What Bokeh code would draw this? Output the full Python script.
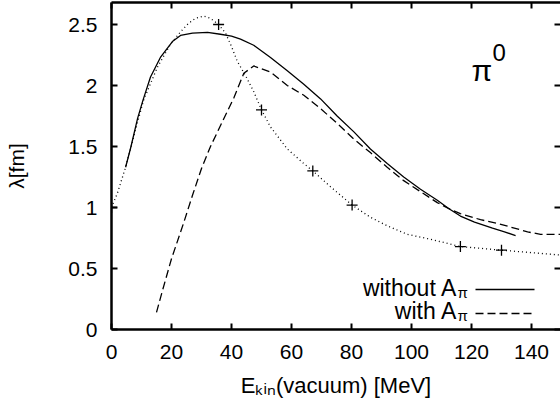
from bokeh.plotting import figure
from bokeh.models import (Range1d, FixedTicker, LinearAxis, Label,
                          NumeralTickFormatter, CustomLabelingPolicy)
from bokeh.embed import file_html
from bokeh.resources import INLINE

# ---- data -------------------------------------------------------------
x_ticks = [0, 20, 40, 60, 80, 100, 120, 140]
y_ticks = [0, 0.5, 1, 1.5, 2, 2.5]

# without A_pi (solid)
sol_x = [4.7, 6.5, 8.7, 10.5, 13, 16.3, 20.3, 23, 27, 32, 36.3, 40, 43,
         47.4, 53, 58.6, 64.1, 69.7, 75.2, 80.8, 86.3, 91.9, 97.4, 103,
         108.6, 112.5, 116.3, 121, 127, 131, 134.7]
sol_y = [1.33, 1.50, 1.73, 1.88, 2.07, 2.23, 2.36, 2.41, 2.43, 2.435, 2.42,
         2.405, 2.38, 2.33, 2.23, 2.12, 2.01, 1.89, 1.75, 1.62, 1.48, 1.36,
         1.25, 1.15, 1.06, 0.99, 0.93, 0.88, 0.83, 0.80, 0.77]

# with A_pi (dashed)
das_x = [15, 17, 20, 24, 27, 30, 33, 36.3, 40.8, 44.1, 47.4, 53, 58.6,
         64.1, 69.7, 75.2, 80.8, 86.3, 91.9, 97.4, 103, 108.6, 112.5, 116.3,
         123, 128.7, 133, 138.7, 143, 149.7]
das_y = [0.14, 0.32, 0.58, 0.87, 1.10, 1.32, 1.50, 1.67, 1.90, 2.10, 2.16,
         2.11, 2.00, 1.92, 1.81, 1.69, 1.56, 1.45, 1.33, 1.22, 1.13, 1.04,
         0.99, 0.95, 0.90, 0.87, 0.84, 0.80, 0.78, 0.78]

# dotted curve
dot_x = [0, 2, 4.7, 8.7, 10.7, 15.3, 19.7, 23, 25.7, 28, 30.7, 33, 35.7, 38,
         40, 41.9, 44.7, 47.4, 50, 53, 58.6, 64.1, 67.1, 73, 80.2, 86.3,
         91.9, 98.6, 106.3, 116.3, 130, 140, 149.7]
dot_y = [1.0, 1.12, 1.33, 1.70, 1.88, 2.15, 2.34, 2.44, 2.51, 2.55, 2.57,
         2.55, 2.50, 2.43, 2.32, 2.20, 2.08, 1.95, 1.80, 1.66, 1.48, 1.36,
         1.30, 1.17, 1.02, 0.92, 0.85, 0.78, 0.74, 0.68, 0.65, 0.63, 0.61]

# points (+)
pts_x = [0, 35.7, 50, 67.1, 80.2, 116.3, 130]
pts_y = [1.0, 2.50, 1.80, 1.30, 1.02, 0.68, 0.65]

# ---- geometry (page pixels) and pixel -> data helpers for text ---------
W, H = 560, 405
L, R, T, B = 111, 560, 2, 329          # frame edges in page pixels
X0, X1 = 0, (R - L) / 3.0              # 3 px per MeV
Y0, Y1 = 0, (B - T) / 122.0            # 122 px per fm
TEXT_DY = 8                            # baseline correction for labels


def px2x(px):
    return X0 + (px - L) * (X1 - X0) / (R - L)


def py2y(py):
    return Y0 + (B - py) * (Y1 - Y0) / (B - T)


FONT = "Liberation Sans"

p = figure(width=W, height=H, output_backend="svg", toolbar_location=None,
           x_range=Range1d(X0, X1), y_range=Range1d(Y0, Y1),
           min_border_left=L, min_border_right=W - R, min_border_top=T,
           min_border_bottom=H - B)
p.grid.visible = False
p.outline_line_color = None
p.background_fill_color = "white"
p.border_fill_color = "white"

for ax, tk in ((p.xaxis[0], x_ticks), (p.yaxis[0], y_ticks)):
    ax.ticker = FixedTicker(ticks=tk)
    ax.axis_line_width = 2.5
    ax.axis_line_color = "black"
    ax.major_tick_in = 6
    ax.major_tick_out = 0
    ax.major_tick_line_width = 2
    ax.minor_tick_line_color = None
    ax.major_label_text_font = FONT
    ax.major_label_text_font_size = "21px"
    ax.major_label_text_color = "black"

p.xaxis.major_label_standoff = 15
p.xaxis.axis_label = "Eₖᵢₙ(vacuum) [MeV]"
p.xaxis.axis_label_text_font = FONT
p.xaxis.axis_label_text_font_size = "22px"
p.xaxis.axis_label_text_font_style = "normal"
p.xaxis.axis_label_text_color = "black"
p.xaxis.axis_label_standoff = 11

p.yaxis.major_label_standoff = 14
p.yaxis.formatter = NumeralTickFormatter(format="0.[0]")
p.yaxis.axis_label = "λ[fm]"
p.yaxis.axis_label_text_font = FONT
p.yaxis.axis_label_text_font_size = "21px"
p.yaxis.axis_label_text_font_style = "normal"
p.yaxis.axis_label_text_color = "black"
p.yaxis.axis_label_standoff = 37


def mirror_axis(ticks, show_line):
    return LinearAxis(ticker=FixedTicker(ticks=ticks),
                      axis_line_width=2.5,
                      axis_line_color="black" if show_line else None,
                      major_tick_in=6, major_tick_out=0,
                      major_tick_line_width=2, minor_tick_line_color=None,
                      major_label_text_font_size="0px",
                      major_label_standoff=0,
                      major_label_policy=CustomLabelingPolicy(code="return []"))


p.add_layout(mirror_axis(x_ticks, True), "above")
p.add_layout(mirror_axis(y_ticks, False), "right")

p.line(sol_x, sol_y, line_color="black", line_width=1.3)
p.line(das_x, das_y, line_color="black", line_width=1.3, line_dash="8 4")
p.line(dot_x, dot_y, line_color="black", line_width=1.3, line_dash="1 3")
p.scatter(pts_x, pts_y, marker="cross", size=11, line_color="black",
          line_width=1.3)

# legend keys
p.line([px2x(475), px2x(534)], [py2y(289)] * 2, line_color="black",
       line_width=1.3)
p.line([px2x(475), px2x(534)], [py2y(313)] * 2, line_color="black",
       line_width=1.3, line_dash="8 4")


def lab(px, py, txt, size, align="left"):
    p.add_layout(Label(x=px2x(px), y=py2y(py - TEXT_DY), text=txt,
                       text_font=FONT, text_font_size=size,
                       text_color="black", text_align=align,
                       text_baseline="alphabetic"))


# legend texts
lab(457, 295, "without A", "23px", "right")
lab(457, 300, "π", "15px")
lab(457, 318, "with A", "23px", "right")
lab(457, 323, "π", "15px")

# pi^0 label
lab(471, 78, "π", "30px")
lab(492, 60, "0", "24px")

open("out.html", "w").write(file_html(p, INLINE))
